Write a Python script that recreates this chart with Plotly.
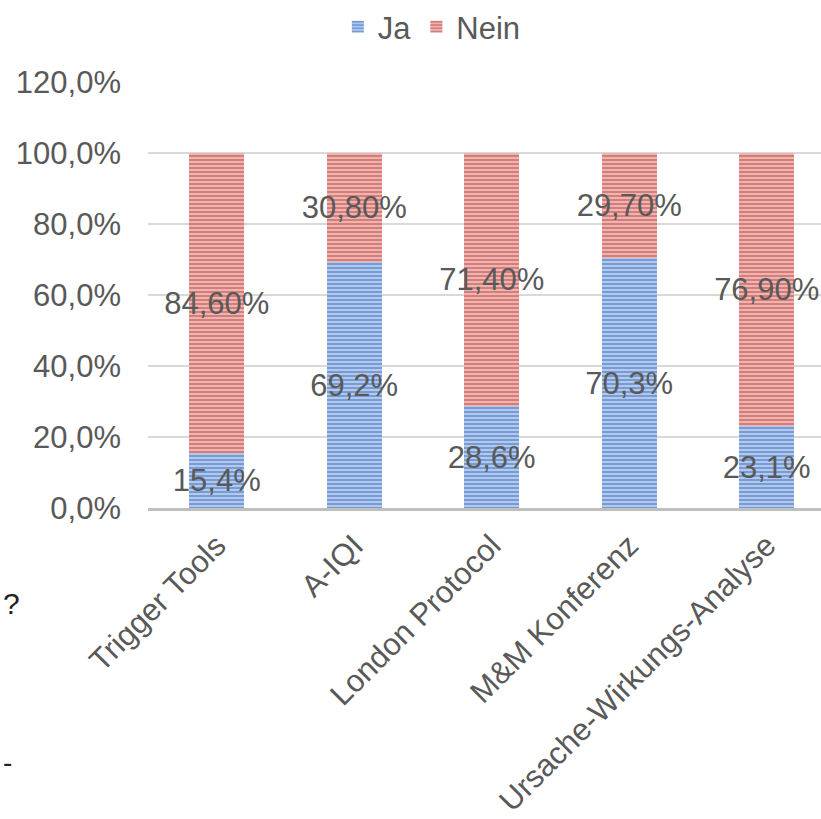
import plotly.graph_objects as go

categories = ["Trigger Tools", "A-IQI", "London Protocol", "M&M Konferenz", "Ursache-Wirkungs-Analyse"]
ja_values = [15.4, 69.2, 28.6, 70.3, 23.1]
nein_values = [84.6, 30.8, 71.4, 29.7, 76.9]
ja_labels = ["15,4%", "69,2%", "28,6%", "70,3%", "23,1%"]
nein_labels = ["84,60%", "30,80%", "71,40%", "29,70%", "76,90%"]
y_ticks = [0, 20, 40, 60, 80, 100, 120]
y_tick_labels = ["0,0%", "20,0%", "40,0%", "60,0%", "80,0%", "100,0%", "120,0%"]

FONT = "Liberation Sans, Arial, sans-serif"
TXT = "#595959"

fig = go.Figure()
fig.add_trace(go.Bar(
    x=categories, y=ja_values, name="Ja", text=ja_labels,
    marker=dict(color="#C2D5EF", line=dict(width=0),
                pattern=dict(shape="-", fgcolor="#2C62BE", bgcolor="#C2D5EF", size=4, solidity=0.6)),
    textposition="inside", insidetextanchor="middle", textangle=0, constraintext="none",
    textfont=dict(size=31, color=TXT, family=FONT), cliponaxis=False,
))
fig.add_trace(go.Bar(
    x=categories, y=nein_values, name="Nein", text=nein_labels,
    marker=dict(color="#F0C4BF", line=dict(width=0),
                pattern=dict(shape="-", fgcolor="#BE3434", bgcolor="#F0C4BF", size=4, solidity=0.6)),
    textposition="inside", insidetextanchor="middle", textangle=0, constraintext="none",
    textfont=dict(size=31, color=TXT, family=FONT), cliponaxis=False,
))

fig.update_layout(
    width=821, height=819, barmode="stack", bargap=0.6,
    paper_bgcolor="white", plot_bgcolor="white",
    margin=dict(l=148, r=0, t=82, b=311, autoexpand=False),
    font=dict(family=FONT, color=TXT, size=31),
    legend=dict(orientation="h", xref="container", yref="container", x=0.526, xanchor="center",
                y=1.0, yanchor="top", font=dict(size=31, color=TXT), itemwidth=30,
                traceorder="normal"),
    showlegend=True,
)
fig.update_yaxes(range=[0, 120], tickvals=y_ticks, ticktext=y_tick_labels,
                 showgrid=True, gridcolor="#D9D9D9", gridwidth=1.5, zeroline=False,
                 showline=False, tickfont=dict(size=31, color=TXT), ticks="",
                 ticklabelstandoff=26, automargin=False)
fig.update_xaxes(range=[-0.5, 4.395], tickangle=-45, tickfont=dict(size=31, color=TXT),
                 showline=True, linecolor="#BFBFBF", linewidth=3, ticks="",
                 ticklabelstandoff=4, automargin=False)

fig.add_annotation(xref="paper", yref="paper", x=-148/673, y=-102/426, text="?",
                   showarrow=False, xanchor="left", xshift=1, yshift=-12, font=dict(size=30, color="#222"))
fig.add_annotation(xref="paper", yref="paper", x=-148/673, y=-252/426, text="-",
                   showarrow=False, xanchor="left", xshift=1, yshift=-20, font=dict(size=28, color="#222"))

fig.write_html("out.html")
